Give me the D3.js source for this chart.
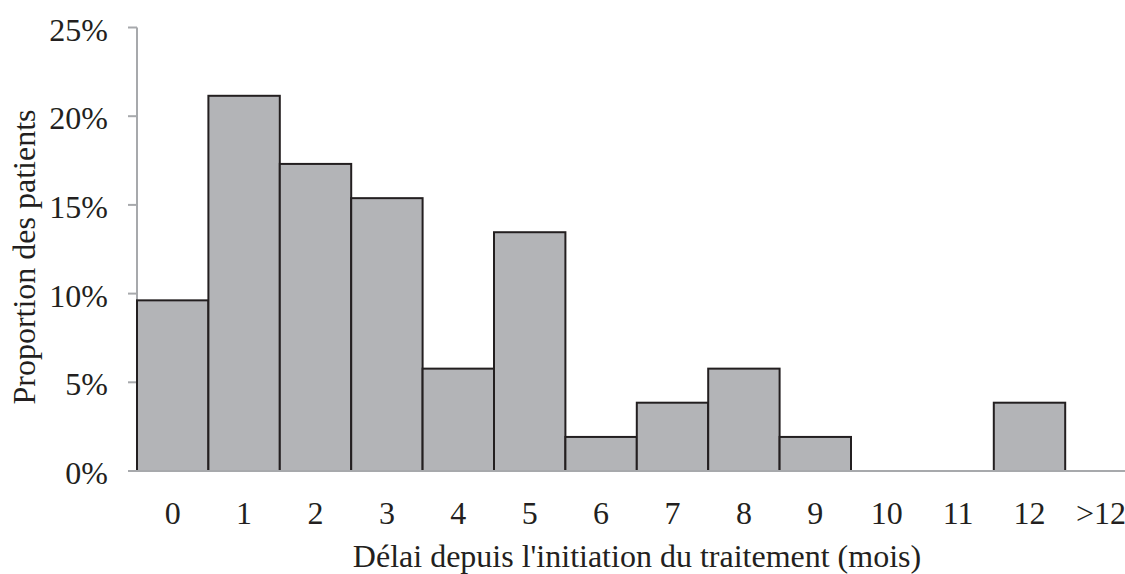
<!DOCTYPE html>
<html><head><meta charset="utf-8">
<script src="https://cdn.jsdelivr.net/npm/d3@7"></script>
<style>body{margin:0;background:#fff;} svg{display:block;} text{font-family:"Liberation Serif","Times New Roman",serif;fill:#231f20;}</style>
</head><body><svg id="c" width="1125" height="574"></svg>
<script>
const categories = ["0","1","2","3","4","5","6","7","8","9","10","11","12",">12"];
const values = [9.62,21.15,17.31,15.38,5.77,13.46,1.92,3.85,5.77,1.92,0,0,3.85,0];
const yTicks = [0,5,10,15,20,25];

const svg = d3.select("#c");
const x0 = 137, bw = 71.4;
const x = d3.scaleBand().domain(categories).range([x0, x0 + bw*categories.length]).padding(0);
const y = d3.scaleLinear().domain([0,25]).range([471, 27.5]);

// y axis
svg.append("line").attr("x1",x0).attr("x2",x0).attr("y1",y(25)).attr("y2",y(0)).attr("stroke","#a7a9ac").attr("stroke-width",2);
svg.selectAll(".yt").data(yTicks).join("line").attr("x1",128).attr("x2",x0).attr("y1",d=>y(d)).attr("y2",d=>y(d)).attr("stroke","#a7a9ac").attr("stroke-width",2);
svg.selectAll(".yl").data(yTicks).join("text").attr("x",108).attr("y",d=>y(d)+13).attr("text-anchor","end").attr("font-size",32).text(d=>d+"%");

// bars
svg.selectAll(".b").data(values.map((v,i)=>({c:categories[i],v}))).join("rect")
  .filter(d=>d.v>0)
  .attr("x",d=>x(d.c)).attr("width",x.bandwidth()).attr("y",d=>y(d.v)).attr("height",d=>y(0)-y(d.v))
  .attr("fill","#b3b4b7").attr("stroke","#231f20").attr("stroke-width",2);

// baseline
svg.append("line").attr("x1",128).attr("x2",1125).attr("y1",y(0)).attr("y2",y(0)).attr("stroke","#a7a9ac").attr("stroke-width",2);

// x labels
svg.selectAll(".xl").data(categories).join("text").attr("x",d=>x(d)+x.bandwidth()/2).attr("y",524).attr("text-anchor","middle").attr("font-size",32).text(d=>d);

svg.append("text").attr("x",637).attr("y",567).attr("text-anchor","middle").attr("font-size",32).text("Délai depuis l'initiation du traitement (mois)");
svg.append("text").attr("transform","translate(35,257) rotate(-90)").attr("text-anchor","middle").attr("font-size",32).text("Proportion des patients");
</script></body></html>
